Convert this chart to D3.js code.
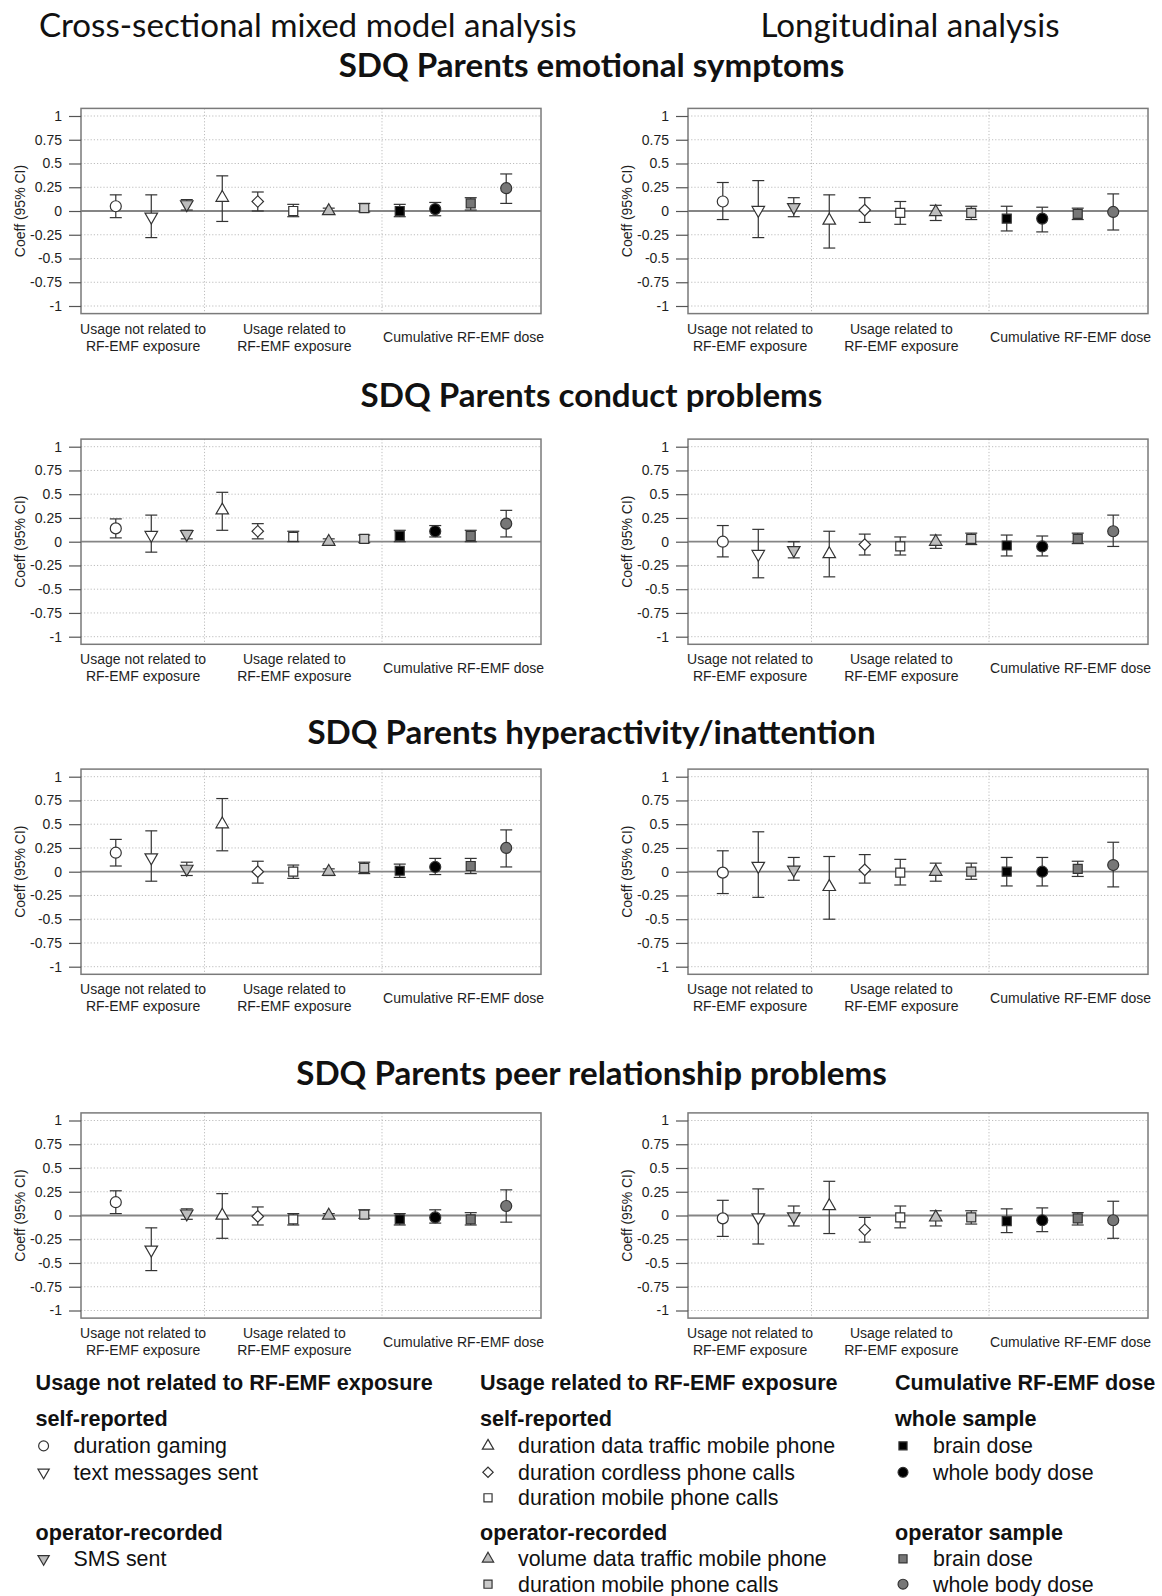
<!DOCTYPE html>
<html>
<head>
<meta charset="utf-8">
<script src="https://cdn.jsdelivr.net/npm/d3@7"></script>
<style>
  body { margin: 0; background: #fff; }
  svg text { font-family: "Liberation Sans", Arial, sans-serif; }
</style>
</head>
<body>
<svg id="fig" width="1162" height="1596"></svg>
<script>
// ---------------- data ----------------
// exposure measures, in plotting order (also the legend entries)
const measures = [
  "duration gaming", "text messages sent", "SMS sent",
  "duration data traffic mobile phone", "duration cordless phone calls", "duration mobile phone calls",
  "volume data traffic mobile phone", "duration mobile phone calls",
  "brain dose", "whole body dose", "brain dose", "whole body dose"
];

const outcomes = [
  "SDQ Parents emotional symptoms",
  "SDQ Parents conduct problems",
  "SDQ Parents hyperactivity/inattention",
  "SDQ Parents peer relationship problems"
];

const analyses = ["Cross-sectional mixed model analysis", "Longitudinal analysis"];

const yTicks = [1, 0.75, 0.5, 0.25, 0, -0.25, -0.5, -0.75, -1];
const groupLabels = [["Usage not related to", "RF-EMF exposure"], ["Usage related to", "RF-EMF exposure"], ["Cumulative RF-EMF dose"]];

// coefficients with 95% CI: emotional symptoms
const emoCrossEst = [0.05, -0.06, 0.07, 0.14, 0.10, 0.00, 0.00, 0.03, 0.00, 0.02, 0.08, 0.24];
const emoCrossLow = [-0.07, -0.28, 0.01, -0.11, 0.00, -0.06, -0.03, -0.01, -0.06, -0.05, 0.01, 0.08];
const emoCrossUp  = [0.17, 0.17, 0.12, 0.37, 0.20, 0.07, 0.03, 0.08, 0.07, 0.09, 0.14, 0.39];
const emoLongEst  = [0.10, 0.01, 0.04, -0.10, 0.01, -0.02, -0.01, -0.02, -0.08, -0.08, -0.03, -0.01];
const emoLongLow  = [-0.09, -0.28, -0.06, -0.39, -0.12, -0.14, -0.10, -0.09, -0.21, -0.22, -0.09, -0.20];
const emoLongUp   = [0.30, 0.32, 0.14, 0.17, 0.14, 0.10, 0.06, 0.05, 0.05, 0.04, 0.03, 0.18];

// conduct problems
const conCrossEst = [0.14, 0.07, 0.08, 0.33, 0.11, 0.05, 0.00, 0.03, 0.06, 0.11, 0.06, 0.19];
const conCrossLow = [0.04, -0.11, 0.03, 0.12, 0.03, 0.00, -0.02, -0.01, 0.00, 0.05, 0.00, 0.05];
const conCrossUp  = [0.24, 0.28, 0.12, 0.52, 0.19, 0.11, 0.03, 0.07, 0.12, 0.17, 0.12, 0.33];
const conLongEst  = [0.00, -0.13, -0.09, -0.13, -0.03, -0.05, 0.00, 0.03, -0.04, -0.05, 0.03, 0.11];
const conLongLow  = [-0.16, -0.38, -0.17, -0.37, -0.14, -0.14, -0.07, -0.03, -0.15, -0.15, -0.02, -0.05];
const conLongUp   = [0.17, 0.13, 0.00, 0.11, 0.08, 0.05, 0.07, 0.09, 0.07, 0.06, 0.09, 0.28];

// hyperactivity/inattention
const hypCrossEst = [0.20, 0.15, 0.03, 0.50, 0.00, 0.00, 0.00, 0.04, 0.01, 0.05, 0.06, 0.25];
const hypCrossLow = [0.06, -0.10, -0.04, 0.22, -0.12, -0.07, -0.04, -0.02, -0.06, -0.03, -0.02, 0.05];
const hypCrossUp  = [0.34, 0.43, 0.10, 0.77, 0.11, 0.07, 0.03, 0.10, 0.08, 0.14, 0.14, 0.44];
const hypLongEst  = [-0.01, 0.06, 0.02, -0.16, 0.02, -0.01, 0.00, 0.00, 0.00, 0.00, 0.03, 0.07];
const hypLongLow  = [-0.23, -0.27, -0.09, -0.50, -0.12, -0.14, -0.10, -0.08, -0.15, -0.15, -0.05, -0.16];
const hypLongUp   = [0.22, 0.42, 0.15, 0.16, 0.18, 0.13, 0.09, 0.09, 0.15, 0.15, 0.11, 0.31];

// peer relationship problems
const peerCrossEst = [0.14, -0.36, 0.02, 0.00, -0.01, -0.04, 0.00, 0.01, -0.04, -0.02, -0.04, 0.10];
const peerCrossLow = [0.02, -0.58, -0.04, -0.24, -0.10, -0.10, -0.03, -0.03, -0.10, -0.08, -0.10, -0.07];
const peerCrossUp  = [0.26, -0.13, 0.07, 0.23, 0.09, 0.02, 0.02, 0.06, 0.02, 0.06, 0.03, 0.27];
const peerLongEst  = [-0.03, -0.02, -0.01, 0.10, -0.15, -0.02, -0.02, -0.02, -0.06, -0.05, -0.03, -0.05];
const peerLongLow  = [-0.22, -0.30, -0.11, -0.19, -0.28, -0.13, -0.11, -0.09, -0.18, -0.17, -0.10, -0.24];
const peerLongUp   = [0.16, 0.28, 0.10, 0.36, -0.02, 0.10, 0.05, 0.05, 0.07, 0.08, 0.03, 0.15];

// panels: [row][column] -> estimate, lower, upper
const panels = [
  [[emoCrossEst, emoCrossLow, emoCrossUp], [emoLongEst, emoLongLow, emoLongUp]],
  [[conCrossEst, conCrossLow, conCrossUp], [conLongEst, conLongLow, conLongUp]],
  [[hypCrossEst, hypCrossLow, hypCrossUp], [hypLongEst, hypLongLow, hypLongUp]],
  [[peerCrossEst, peerCrossLow, peerCrossUp], [peerLongEst, peerLongLow, peerLongUp]]
];

// ---------------- styling ----------------
const markerShapes = ["circle", "triDown", "triDown", "triUp", "diamond", "square", "triUp", "square", "square", "circle", "square", "circle"];
const markerFills  = ["#fff", "#fff", "#bdbdbd", "#fff", "#fff", "#fff", "#bdbdbd", "#cacaca", "#000", "#000", "#777", "#777"];
const ink = "#333";

// ---------------- layout ----------------
const panelLeft = [81, 688];
const panelWidth = 460;
const rowTop = [116, 446.7, 776.7, 1120.5];   // pixel row of y = 1
const unitPx = 95;                            // pixels per coefficient unit
const groupCenters = [1.77, 6.03, 10.8];
const sepPositions = [3.5, 8.5];
const titleBase = [77, 407, 744, 1084.5];

const svg = d3.select("#fig");

function symbolPath(shape, scale) {
  const k = scale || 1;
  switch (shape) {
    case "circle":  return d3.symbol(d3.symbolCircle, 95 * k * k)();
    case "square":  return d3.symbol(d3.symbolSquare, 81 * k * k)();
    case "diamond": return d3.symbol(d3.symbolSquare, 66 * k * k)();
    default:        return d3.symbol(d3.symbolTriangle, 68 * k * k)();
  }
}
function symbolRotate(shape) {
  if (shape === "triDown") return 180;
  if (shape === "diamond") return 45;
  return 0;
}

function drawPanel(left, top1, est, low, up) {
  const g = svg.append("g");
  const x = d3.scaleLinear().domain([0.02, 12.98]).range([left, left + panelWidth]);
  const y = d3.scaleLinear().domain([-1, 1]).range([top1 + 2 * unitPx, top1]);
  const yTop = y(1.08), yBot = y(-1.08);

  // dotted grid
  g.selectAll(".hg").data(yTicks.filter(v => v !== 0)).join("line")
    .attr("x1", x(0.02)).attr("x2", x(12.98))
    .attr("y1", d => y(d)).attr("y2", d => y(d))
    .attr("stroke", "#bdbdbd").attr("stroke-width", 1).attr("stroke-dasharray", "1.2,2");
  g.selectAll(".vg").data(sepPositions).join("line")
    .attr("x1", d => x(d)).attr("x2", d => x(d))
    .attr("y1", yTop).attr("y2", yBot)
    .attr("stroke", "#bdbdbd").attr("stroke-width", 1).attr("stroke-dasharray", "1.2,2");

  // reference line at zero
  g.append("line")
    .attr("x1", x(0.02)).attr("x2", x(12.98))
    .attr("y1", y(0)).attr("y2", y(0))
    .attr("stroke", "#858585").attr("stroke-width", 1.8);

  // frame
  g.append("rect")
    .attr("x", x(0.02)).attr("y", yTop)
    .attr("width", x(12.98) - x(0.02)).attr("height", yBot - yTop)
    .attr("fill", "none").attr("stroke", "#7a7a7a").attr("stroke-width", 1.5);

  // y axis
  const ax = g.append("g")
    .attr("transform", `translate(${x(0.02)},0)`)
    .call(d3.axisLeft(y).tickValues(yTicks).tickSize(12).tickPadding(7).tickFormat(d => String(d)));
  ax.select(".domain").remove();
  ax.selectAll(".tick line").attr("stroke", "#555").attr("stroke-width", 1.2);
  ax.selectAll(".tick text")
    .attr("fill", "#1e1e1e")
    .style("font-size", "14px")
    .style("font-family", "'Liberation Sans', Arial, sans-serif");

  g.append("text")
    .attr("transform", `translate(${x(0.02) - 60.5},${y(0)}) rotate(-90)`)
    .attr("text-anchor", "middle").attr("dy", "0.35em")
    .attr("font-size", 14).attr("fill", "#1e1e1e")
    .text("Coeff (95% CI)");

  // estimates with confidence intervals
  const idx = d3.range(measures.length);
  const cap = 6;
  const bars = g.selectAll(".ci").data(idx).join("g");
  bars.append("line")
    .attr("x1", i => x(i + 1)).attr("x2", i => x(i + 1))
    .attr("y1", i => y(low[i])).attr("y2", i => y(up[i]))
    .attr("stroke", ink).attr("stroke-width", 1.2);
  bars.append("line")
    .attr("x1", i => x(i + 1) - cap).attr("x2", i => x(i + 1) + cap)
    .attr("y1", i => y(up[i])).attr("y2", i => y(up[i]))
    .attr("stroke", ink).attr("stroke-width", 1.2);
  bars.append("line")
    .attr("x1", i => x(i + 1) - cap).attr("x2", i => x(i + 1) + cap)
    .attr("y1", i => y(low[i])).attr("y2", i => y(low[i]))
    .attr("stroke", ink).attr("stroke-width", 1.2);
  bars.append("path")
    .attr("d", i => symbolPath(markerShapes[i]))
    .attr("transform", i => `translate(${x(i + 1)},${y(est[i])}) rotate(${symbolRotate(markerShapes[i])})`)
    .attr("fill", i => markerFills[i]).attr("stroke", ink).attr("stroke-width", 1.2);

  // group labels beneath the frame
  groupLabels.forEach((lines, k) => {
    const t = g.append("text")
      .attr("text-anchor", "middle").attr("font-size", 14).attr("fill", "#1e1e1e");
    const base = lines.length === 2 ? y(-1) + 27.5 : y(-1) + 36;
    lines.forEach((s, j) => {
      t.append("tspan").attr("x", x(groupCenters[k])).attr("y", base + j * 17).text(s);
    });
  });
}

panels.forEach((row, r) => {
  row.forEach((p, c) => drawPanel(panelLeft[c], rowTop[r], p[0], p[1], p[2]));
});

// ---------------- headings ----------------
function fitText(sel, targetWidth) {
  const w = sel.node().getComputedTextLength();
  const fs = parseFloat(sel.attr("font-size"));
  sel.attr("font-size", fs * targetWidth / w);
  return fs * targetWidth / w;
}

const headFont = "Lato, 'Open Sans', sans-serif";
const h1 = svg.append("text").attr("x", 307.8).attr("y", 36.5).attr("text-anchor", "middle")
  .attr("font-size", 30).style("font-family", headFont).attr("fill", "#111").text(analyses[0]);
const headSize = fitText(h1, 538);
svg.append("text").attr("x", 910).attr("y", 36.5).attr("text-anchor", "middle")
  .attr("font-size", headSize).style("font-family", headFont).attr("fill", "#111").text(analyses[1]);

const t0 = svg.append("text").attr("x", 591.5).attr("y", titleBase[0]).attr("text-anchor", "middle")
  .attr("font-size", 28).attr("font-weight", 700).style("font-family", headFont).attr("fill", "#111")
  .text(outcomes[0]);
const titleSize = fitText(t0, 506);
outcomes.slice(1).forEach((s, i) => {
  svg.append("text").attr("x", 591.5).attr("y", titleBase[i + 1]).attr("text-anchor", "middle")
    .attr("font-size", titleSize).attr("font-weight", 700).style("font-family", headFont).attr("fill", "#111")
    .text(s);
});

// ---------------- legend ----------------
const legendCols = [35.6, 480, 895];
const legendRowY = [1382.8, 1418.4, 1445.9, 1472.3, 1497.8, 1532.4, 1558.8, 1584.2];
const legendHeads = ["Usage not related to RF-EMF exposure", "Usage related to RF-EMF exposure", "Cumulative RF-EMF dose"];
const legendSubs = [["self-reported", "operator-recorded"], ["self-reported", "operator-recorded"], ["whole sample", "operator sample"]];
// measure indices listed under each sub-heading
const legendItems = [[[0, 1], [2]], [[3, 4, 5], [6, 7]], [[8, 9], [10, 11]]];

const lg = svg.append("g").attr("fill", "#111");
legendCols.forEach((lx, c) => {
  lg.append("text").attr("x", lx).attr("y", legendRowY[0]).attr("dy", "0.35em")
    .attr("font-size", 21.6).attr("font-weight", 700).text(legendHeads[c]);
  const subRows = [1, 5];
  legendSubs[c].forEach((s, k) => {
    lg.append("text").attr("x", lx).attr("y", legendRowY[subRows[k]]).attr("dy", "0.35em")
      .attr("font-size", 21.6).attr("font-weight", 700).text(s);
    legendItems[c][k].forEach((mi, j) => {
      const ry = legendRowY[subRows[k] + 1 + j];
      lg.append("path")
        .attr("d", symbolPath(markerShapes[mi], 0.9))
        .attr("transform", `translate(${lx + 8},${ry}) rotate(${symbolRotate(markerShapes[mi])})`)
        .attr("fill", markerFills[mi]).attr("stroke", ink).attr("stroke-width", 1.2);
      lg.append("text").attr("x", lx + 38).attr("y", ry).attr("dy", "0.35em")
        .attr("font-size", 21.4).text(measures[mi]);
    });
  });
});
</script>
</body>
</html>
